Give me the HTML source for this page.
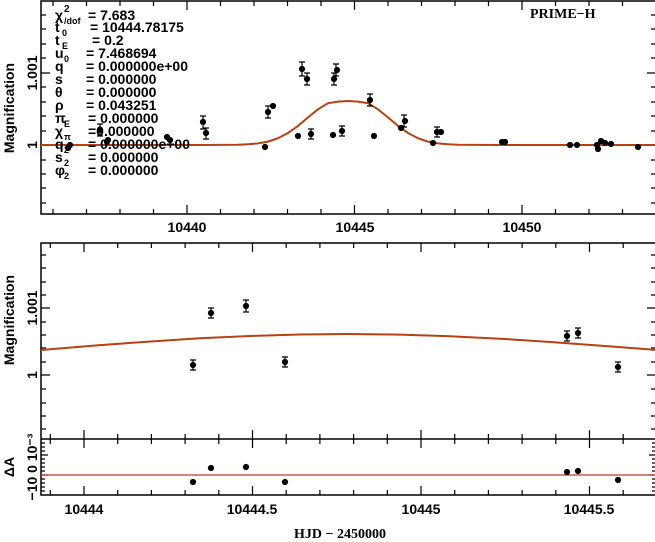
<!DOCTYPE html>
<html><head><meta charset="utf-8"><style>
html,body{margin:0;padding:0;background:#fff;}
svg{display:block;font-family:"Liberation Sans",sans-serif;font-weight:bold;}
.t{font-size:14px;fill:#000;}
</style></head><body>
<svg width="655" height="542" viewBox="0 0 655 542" xmlns="http://www.w3.org/2000/svg">
<g stroke="#000" stroke-width="1.5" fill="none">
<!-- top frame -->
<rect x="41" y="1" width="615" height="213"/>
<!-- middle frame -->
<rect x="41" y="243" width="615" height="252"/>
<line x1="41" y1="439" x2="656" y2="439"/>
</g>
<g stroke="#000" stroke-width="1.2">
<!-- top x ticks: 1 day = 33.5 px, 10440 at 187 -->
<path d="M53.0 214v-5M53.0 1v5M86.5 214v-5M86.5 1v5M120 214v-5M120 1v5M153.5 214v-5M153.5 1v5M187 214v-9M187 1v9M220.5 214v-5M220.5 1v5M254 214v-5M254 1v5M287.5 214v-5M287.5 1v5M321 214v-5M321 1v5M354.5 214v-9M354.5 1v9M388 214v-5M388 1v5M421.5 214v-5M421.5 1v5M455 214v-5M455 1v5M488.5 214v-5M488.5 1v5M522 214v-9M522 1v9M555.5 214v-5M555.5 1v5M589 214v-5M589 1v5M622.5 214v-5M622.5 1v5"/>
<!-- top y ticks -->
<path d="M41 15h5M41 29h5M41 44h5M41 58h5M41 73h9M41 87h5M41 102h5M41 116h5M41 131h5M41 145h9M41 160h5M41 174h5M41 188h5M41 203h5"/>
<path d="M656 15h-5M656 29h-5M656 44h-5M656 58h-5M656 73h-9M656 87h-5M656 102h-5M656 116h-5M656 131h-5M656 145h-9M656 160h-5M656 174h-5M656 188h-5M656 203h-5"/>
<!-- middle x ticks: 10444 at 84, 337 px/day -->
<path d="M50.3 243v5M50.3 439v-5M50.3 439v5M50.3 495v-5M84 243v9M84 439v-9M84 439v9M84 495v-9M117.7 243v5M117.7 439v-5M117.7 439v5M117.7 495v-5M151.4 243v5M151.4 439v-5M151.4 439v5M151.4 495v-5M185.1 243v5M185.1 439v-5M185.1 439v5M185.1 495v-5M218.8 243v5M218.8 439v-5M218.8 439v5M218.8 495v-5M252.5 243v9M252.5 439v-9M252.5 439v9M252.5 495v-9M286.2 243v5M286.2 439v-5M286.2 439v5M286.2 495v-5M319.9 243v5M319.9 439v-5M319.9 439v5M319.9 495v-5M353.6 243v5M353.6 439v-5M353.6 439v5M353.6 495v-5M387.3 243v5M387.3 439v-5M387.3 439v5M387.3 495v-5M421 243v9M421 439v-9M421 439v9M421 495v-9M454.7 243v5M454.7 439v-5M454.7 439v5M454.7 495v-5M488.4 243v5M488.4 439v-5M488.4 439v5M488.4 495v-5M522.1 243v5M522.1 439v-5M522.1 439v5M522.1 495v-5M555.8 243v5M555.8 439v-5M555.8 439v5M555.8 495v-5M589.5 243v9M589.5 439v-9M589.5 439v9M589.5 495v-9M623.2 243v5M623.2 439v-5M623.2 439v5M623.2 495v-5"/>
<!-- middle y ticks -->
<path d="M41 255h5M41 268h5M41 282h5M41 295h5M41 308h9M41 322h5M41 335h5M41 348h5M41 362h5M41 375h9M41 389h5M41 403h5M41 416h5M41 429h5"/>
<path d="M656 255h-5M656 268h-5M656 282h-5M656 295h-5M656 308h-9M656 322h-5M656 335h-5M656 348h-5M656 362h-5M656 375h-9M656 389h-5M656 403h-5M656 416h-5M656 429h-5"/>
<!-- bottom y ticks -->
<path d="M41 443h4M41 447h4M41 451h4M41 455h7M41 459h4M41 463h4M41 467h4M41 471h4M41 475h7M41 479h4M41 483h4M41 487h4M41 491h4"/>
<path d="M656 443h-4M656 447h-4M656 451h-4M656 455h-7M656 459h-4M656 463h-4M656 467h-4M656 471h-4M656 475h-7M656 479h-4M656 483h-4M656 487h-4M656 491h-4"/>
</g>
<!-- model curves -->
<polyline fill="none" stroke="#b8420f" stroke-width="2" points="41,145 200,145 238,144.8 248,144.3 258,143.4 268,141.6 278,138.2 288,133 298,125.9 308,117.4 318,109.3 328,103.2 338,101.6 348,101 358,101.6 368,103.2 378,109.3 388,117.4 398,125.9 408,133 418,138.2 428,141.6 438,143.4 448,144.3 458,144.8 500,145 656,145"/>
<polyline fill="none" stroke="#b8420f" stroke-width="2" points="41,350 100,345.1 147,341.7 200,338.3 247,336.1 300,334.5 347,334 400,334.6 447,336.1 500,338.7 547,341.7 600,345.6 656,349.9"/>
<line x1="41" y1="475" x2="656" y2="475" stroke="#c0392b" stroke-width="1.2"/>
<!-- top data -->
<g fill="#000" stroke="#000" stroke-width="1.2">
<path d="M100 124v12M97 124h6M97 136h6M203 116v13M200 116h6M200 129h6M302 62v14M299 62h6M299 76h6M307 73v12M304 73h6M304 85h6M336 64v12M333 64h6M333 76h6M334 73v12M331 73h6M331 85h6M370 94v12M367 94h6M367 106h6M268 106v12M265 106h6M265 118h6M206 128v11M203 128h6M203 139h6M404 115v12M401 115h6M401 127h6M437 127v10M434 127h6M434 137h6M342 126v10M339 126h6M339 136h6M311 129v10M308 129h6M308 139h6"/>
<circle cx="68" cy="148" r="2.5"/><circle cx="70" cy="145" r="2.5"/><circle cx="100" cy="130" r="2.5"/><circle cx="107" cy="142" r="2.5"/><circle cx="108" cy="140" r="2.5"/><circle cx="167" cy="137" r="2.5"/><circle cx="170" cy="140" r="2.5"/><circle cx="203" cy="122" r="2.5"/><circle cx="206" cy="133" r="2.5"/><circle cx="265" cy="147" r="2.5"/><circle cx="268" cy="112" r="2.5"/><circle cx="273" cy="106" r="2.5"/><circle cx="298" cy="136" r="2.5"/><circle cx="302" cy="69" r="2.5"/><circle cx="307" cy="79" r="2.5"/><circle cx="311" cy="134" r="2.5"/><circle cx="333" cy="135" r="2.5"/><circle cx="334" cy="79" r="2.5"/><circle cx="337" cy="70" r="2.5"/><circle cx="342" cy="131" r="2.5"/><circle cx="370" cy="100" r="2.5"/><circle cx="374" cy="136" r="2.5"/><circle cx="401" cy="128" r="2.5"/><circle cx="405" cy="121" r="2.5"/><circle cx="433" cy="143" r="2.5"/><circle cx="437" cy="132" r="2.5"/><circle cx="441" cy="132" r="2.5"/><circle cx="502" cy="142" r="2.5"/><circle cx="505" cy="142" r="2.5"/><circle cx="570" cy="145" r="2.5"/><circle cx="577" cy="145" r="2.5"/><circle cx="597" cy="145" r="2.5"/><circle cx="598" cy="149" r="2.5"/><circle cx="601" cy="141" r="2.5"/><circle cx="605" cy="143" r="2.5"/><circle cx="611" cy="144" r="2.5"/><circle cx="638" cy="147" r="2.5"/>
</g>
<!-- middle data -->
<g fill="#000" stroke="#000" stroke-width="1.2">
<path d="M193 360v10M190 360h6M190 370h6M211 308v10M208 308h6M208 318h6M246 300v12M243 300h6M243 312h6M285 357v10M282 357h6M282 367h6M567 331v10M564 331h6M564 341h6M578 328v10M575 328h6M575 338h6M618 362v10M615 362h6M615 372h6"/>
<circle cx="193" cy="365" r="2.5"/><circle cx="211" cy="313" r="2.5"/><circle cx="246" cy="306" r="2.5"/><circle cx="285" cy="362" r="2.5"/><circle cx="567" cy="336" r="2.5"/><circle cx="578" cy="333" r="2.5"/><circle cx="618" cy="367" r="2.5"/>
<circle cx="193" cy="482" r="2.5"/><circle cx="211" cy="468" r="2.5"/><circle cx="246" cy="467" r="2.5"/><circle cx="285" cy="482" r="2.5"/><circle cx="567" cy="472" r="2.5"/><circle cx="578" cy="471" r="2.5"/><circle cx="618" cy="480" r="2.5"/>
</g>
<!-- labels -->
<g class="t">
<text x="55" y="20">χ</text><text x="64" y="12" font-size="10">2</text><text x="64" y="24" font-size="9">/dof</text><text x="88" y="20">= 7.683</text>
<text x="55" y="32">t</text><text x="62" y="36" font-size="9">0</text><text x="90" y="32">= 10444.78175</text>
<text x="55" y="45">t</text><text x="62" y="49" font-size="9">E</text><text x="92" y="45">= 0.2</text>
<text x="55" y="58">u</text><text x="64" y="62" font-size="9">0</text><text x="86" y="58">= 7.468694</text>
<text x="55" y="71">q</text><text x="86" y="71">= 0.000000e+00</text>
<text x="55" y="84">s</text><text x="86" y="84">= 0.000000</text>
<text x="55" y="97">θ</text><text x="86" y="97">= 0.000000</text>
<text x="55" y="110">ρ</text><text x="86" y="110">= 0.043251</text>
<text x="55" y="123">π</text><text x="64" y="127" font-size="9">E</text><text x="88" y="123">= 0.000000</text>
<text x="55" y="136">χ</text><text x="64" y="140" font-size="9">π</text><text x="88" y="136">=0.000000</text>
<text x="55" y="149">q</text><text x="64" y="153" font-size="9">2</text><text x="88" y="149">= 0.000000e+00</text>
<text x="55" y="162">s</text><text x="64" y="166" font-size="9">2</text><text x="88" y="162">= 0.000000</text>
<text x="55" y="175">φ</text><text x="64" y="179" font-size="9">2</text><text x="88" y="175">= 0.000000</text>
<text x="530" y="18" font-family="Liberation Serif,serif">PRIME−H</text>
<text x="187" y="232" text-anchor="middle">10440</text>
<text x="355" y="232" text-anchor="middle">10445</text>
<text x="522" y="232" text-anchor="middle">10450</text>
<text x="84" y="514" text-anchor="middle">10444</text>
<text x="252" y="514" text-anchor="middle">10444.5</text>
<text x="421" y="514" text-anchor="middle">10445</text>
<text x="589" y="514" text-anchor="middle">10445.5</text>
<text x="340" y="538" text-anchor="middle" font-family="Liberation Serif,serif">HJD − 2450000</text>
<text transform="translate(37,145) rotate(-90)" text-anchor="middle">1</text>
<text transform="translate(37,73) rotate(-90)" text-anchor="middle">1.001</text>
<text transform="translate(37,375) rotate(-90)" text-anchor="middle">1</text>
<text transform="translate(37,308) rotate(-90)" text-anchor="middle">1.001</text>
<text transform="translate(14,108) rotate(-90)" text-anchor="middle">Magnification</text>
<text transform="translate(14,320) rotate(-90)" text-anchor="middle">Magnification</text>
<text transform="translate(14,467) rotate(-90)" text-anchor="middle">ΔA</text>
<text transform="translate(37,467) rotate(-90)" text-anchor="middle">−10 0 10⁻³</text>
</g>
</svg>
</body></html>
